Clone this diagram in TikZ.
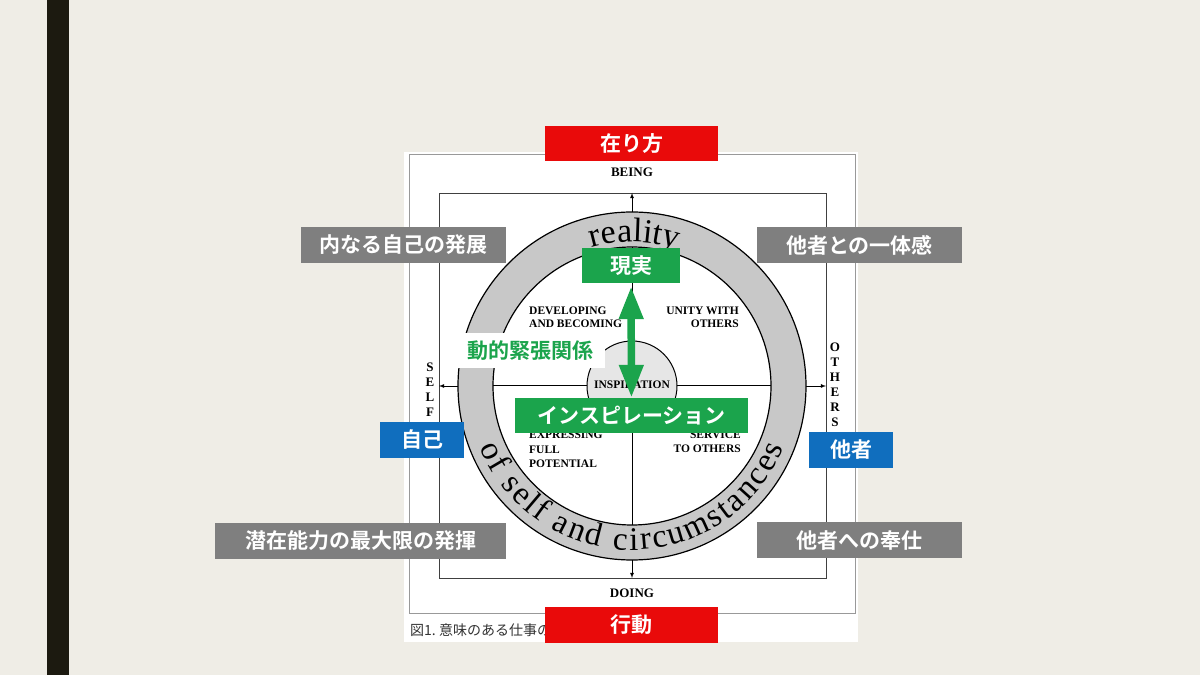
\documentclass[tikz,border=0pt]{standalone}
\usepackage{fontspec}
\usetikzlibrary{arrows.meta,decorations.text}
\newfontfamily\jp{Noto Sans CJK JP}[BoldFont={* Bold}]
\newfontfamily\ser{Liberation Serif}
\newcommand\ringtop{\ser\fontsize{34}{34}\selectfont}
\newcommand\ringbot{\ser\fontsize{33}{33}\selectfont}
\definecolor{bgcol}{HTML}{EFEDE6}
\definecolor{barcol}{HTML}{1C1A10}
\definecolor{redcol}{HTML}{E90A0A}
\definecolor{graycol}{HTML}{7F7F7F}
\definecolor{bluecol}{HTML}{106EBE}
\definecolor{greencol}{HTML}{1BA44C}
\definecolor{ringcol}{HTML}{C8C8C8}
\definecolor{inspcol}{HTML}{E6E6E6}
\tikzset{
	lab/.style={inner sep=0pt, text=white, font=\jp\bfseries\fontsize{21}{21}\selectfont},
	redlab/.style={lab, fill=redcol, minimum width=173pt, minimum height=35pt},
	graylab/.style={lab, fill=graycol, minimum height=36pt},
	bluelab/.style={lab, fill=bluecol, minimum width=84pt, minimum height=36pt},
	greenlab/.style={lab, fill=greencol, minimum height=35pt},
	eng/.style={inner sep=0pt, font=\ser\bfseries\fontsize{11.5}{13}\selectfont},
	axis/.style={inner sep=0pt, font=\ser\bfseries\fontsize{13}{15}\selectfont, align=center},
	tip/.style={-latex, line width=0.8pt},
}
\begin{document}
\begin{tikzpicture}[x=1pt, y=1pt]
				\useasboundingbox (0,0) rectangle (1200,675);
				\fill[bgcol] (0,0) rectangle (1200,675);
				\fill[barcol] (47,0) rectangle (69,675);
				%--
				\fill[white] (404,33) rectangle (858,523);
				\draw[black!40, line width=0.8pt] (409,62) rectangle (855,521);
				\draw[black!75, line width=0.9pt] (439,97) rectangle (826,482);
				\coordinate (cen) at (632,289);
				%--
				\coordinate (rtop) at (632,463);
				\coordinate (btop) at (632,482);
				\coordinate (rbot) at (632,115);
				\coordinate (bbot) at (632,97);
				\coordinate (rleft) at (458,289);
				\coordinate (bleft) at (439,289);
				\coordinate (rright) at (806,289);
				\coordinate (bright) at (826,289);
				\draw[tip] (rtop) -- (btop);
				\draw[tip] (rbot) -- (bbot);
				\draw[tip] (rleft) -- (bleft);
				\draw[tip] (rright) -- (bright);
				%--
				\draw[line width=1.2pt, fill=ringcol, even odd rule] (cen) circle (174) (cen) circle (139);
				\draw[line width=1pt] (493,289) -- (771,289);
				\draw[line width=1pt] (632,428) -- (632,150);
				\draw[line width=1pt, fill=inspcol] (cen) circle (45);
				\node[eng] (inspiration) at (632,290) {INSPIRATION};
				%--
				\node[eng, anchor=west, align=left] (develop) at (529,357.5) {DEVELOPING\\AND BECOMING};
				\node[eng, anchor=east, align=right] (unity) at (739,357.5) {UNITY WITH\\OTHERS};
				\node[eng, anchor=west, align=left, font=\ser\bfseries\fontsize{11.5}{14.5}\selectfont] (express) at (529,225.5) {EXPRESSING\\FULL\\POTENTIAL};
				\node[eng, anchor=east, align=right, font=\ser\bfseries\fontsize{11.5}{14.5}\selectfont] (service) at (741,233) {SERVICE\\TO OTHERS};
				%--
				\path[decorate, decoration={text along path, text={|\ringtop|reality}, text align=center}]
					(cen) ++(111:144) arc[start angle=111, end angle=67, radius=144];
				\path[decorate, decoration={text along path, text={|\ringbot|of self and circumstances}, text align={fit to path}}]
					(cen) ++(202:164) arc[start angle=202, end angle=338, radius=164];
				%--
				\node[axis] (being) at (632,503) {BEING};
				\node[axis] (doing) at (632,82) {DOING};
				\node[axis] (self) at (430,285.5) {S\\E\\L\\F};
				\node[axis] (others) at (835,290) {O\\T\\H\\E\\R\\S};
				\node[anchor=west, inner sep=0pt, text=black!80, font=\jp\fontsize{14}{14}\selectfont] (caption) at (410,45) {図1.\ 意味のある仕事の};
				%--
				\node[redlab] (arikata) at (631.5,531.5) {在り方};
				\node[redlab, minimum height=36pt] (kodo) at (631.5,50) {行動};
				\node[graylab, minimum width=205pt] (naibu) at (403.5,430) {内なる自己の発展};
				\node[graylab, minimum width=205pt] (ittai) at (859.5,430) {他者との一体感};
				\node[graylab, minimum width=291pt] (senzai) at (360.5,134) {潜在能力の最大限の発揮};
				\node[graylab, minimum width=205pt] (hoshi) at (859.5,134.5) {他者への奉仕};
				\node[bluelab] (jiko) at (422,235) {自己};
				\node[bluelab] (tasha) at (851,225) {他者};
				\node[greenlab, minimum width=98pt] (genjitsu) at (631,409.5) {現実};
				\node[greenlab, minimum width=233pt] (inspjp) at (631.5,259.5) {インスピレーション};
				\node[lab, fill=white, text=greencol, minimum width=150pt, minimum height=35pt] (doteki) at (530,324.5) {動的緊張関係};
				\draw[greencol, line width=7.5pt, {Triangle[length=33pt,width=23pt]}-{Triangle[length=33pt,width=23pt]}, shorten <=3pt] (genjitsu) -- (inspjp);
			\end{tikzpicture}
\end{document}
